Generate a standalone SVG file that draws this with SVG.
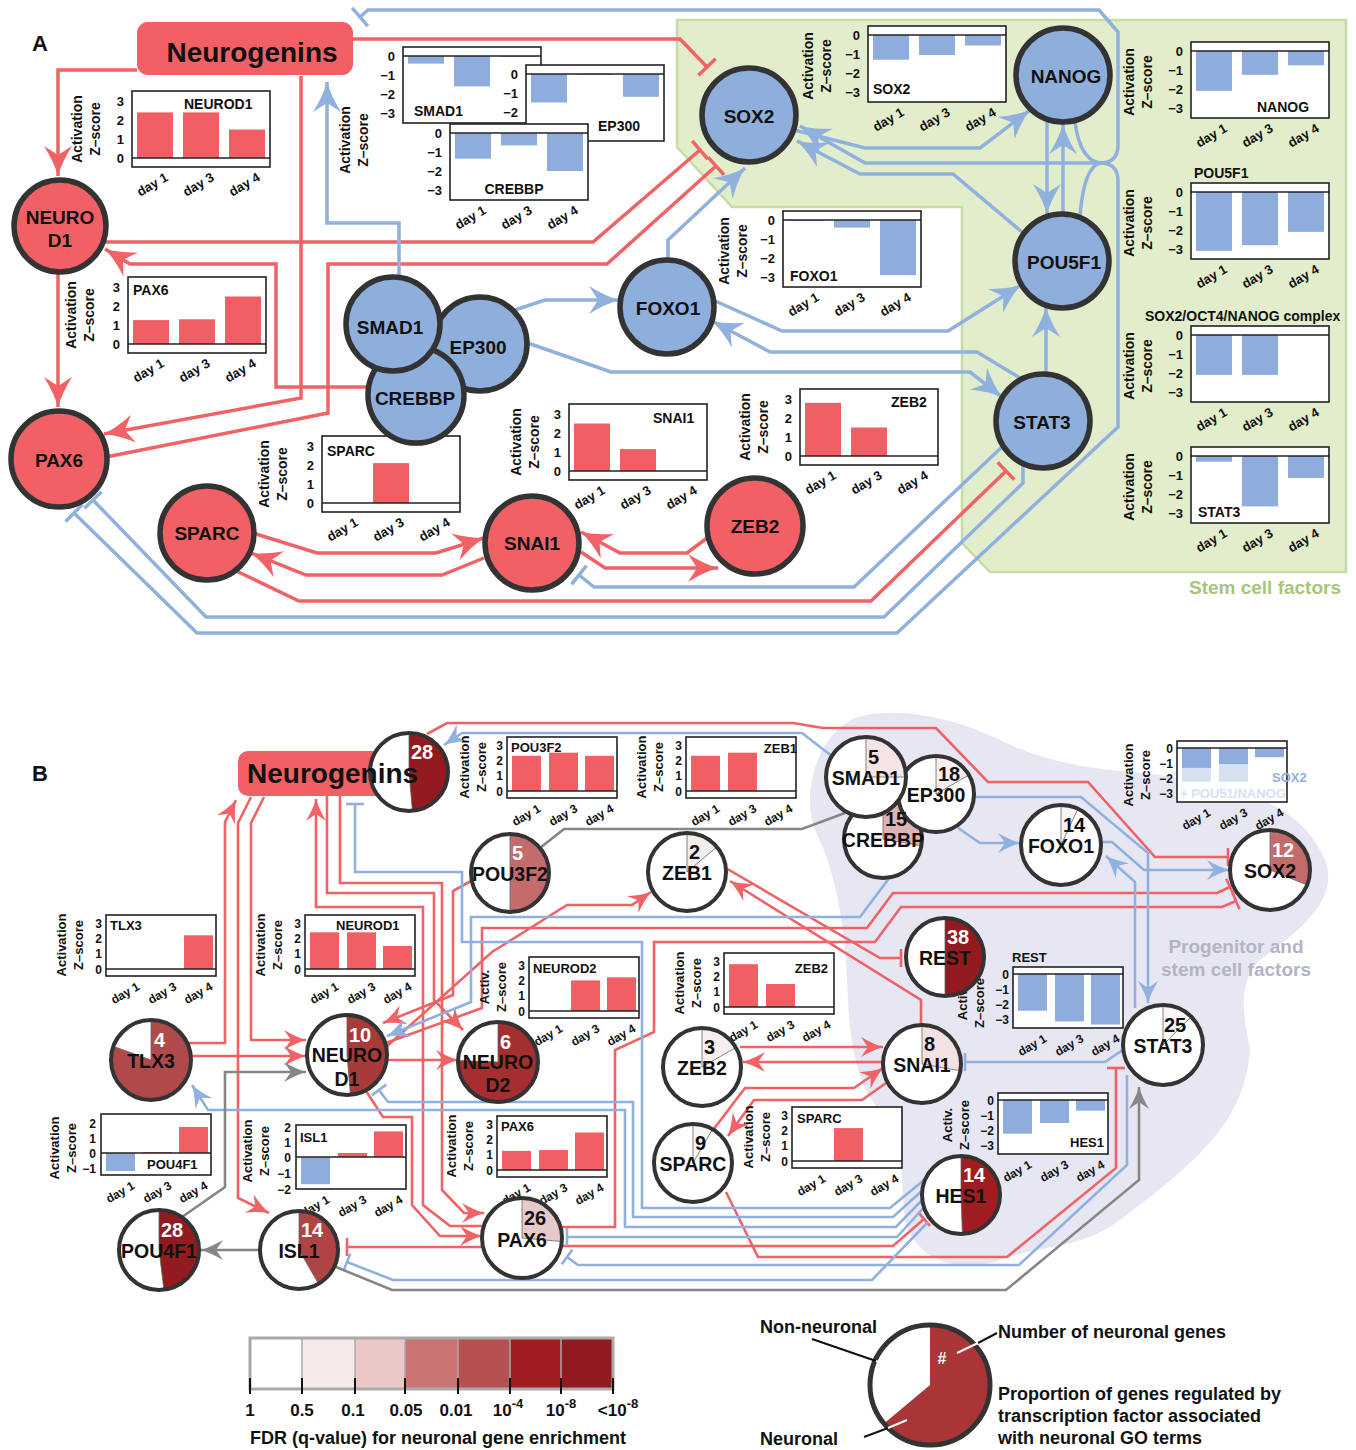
<svg xmlns="http://www.w3.org/2000/svg" width="1356" height="1450" viewBox="0 0 1356 1450">
<defs>
<style>
text{font-family:"Liberation Sans",Arial,Helvetica,sans-serif;font-weight:bold;fill:#111}
.bx{fill:#fff;stroke:#222;stroke-width:1.6}
.zl{stroke:#222;stroke-width:1.6}
.rb{fill:#f05f64}
.bb{fill:#8eacdc}
.lt{fill:#d6e1f2}
.tk{font-size:13px;text-anchor:end}
.ax{font-size:14px;text-anchor:middle}
.dy{font-size:13px;text-anchor:end}
.nm{font-size:14px}
.tkb{font-size:12px;text-anchor:end}
.axb{font-size:13px;text-anchor:middle}
.dyb{font-size:12px;text-anchor:end}
.nmb{font-size:13px}
.lr{fill:none;stroke:#f06266;stroke-width:3.5}
.lb{fill:none;stroke:#90b0de;stroke-width:3.5}
.lr2{fill:none;stroke:#f06266;stroke-width:2.6}
.lb2{fill:none;stroke:#90b0de;stroke-width:2.6}
.lg{fill:none;stroke:#868686;stroke-width:2.6}
.nr{fill:#f06064;stroke:#333;stroke-width:5.5}
.nb{fill:#8eaedc;stroke:#333;stroke-width:5.5}
.cw{fill:#fff}
.co{fill:none;stroke:#333;stroke-width:4}
.wd{stroke:#666;stroke-width:0.8}
.lab{font-size:19px;text-anchor:middle}
.labb{font-size:19.5px;text-anchor:middle}
.num{font-size:20px}
.wn{fill:#fff}
.lg18{font-size:18px}
</style>
<marker id="aR" viewBox="-31 -15 32 30" refX="0" refY="0" markerWidth="32" markerHeight="30" markerUnits="userSpaceOnUse" orient="auto"><path d="M0,0 Q-14,-4 -30,-14 L-21,0 L-30,14 Q-14,4 0,0 Z" fill="#f06266"/></marker>
<marker id="aB" viewBox="-31 -15 32 30" refX="0" refY="0" markerWidth="32" markerHeight="30" markerUnits="userSpaceOnUse" orient="auto"><path d="M0,0 Q-14,-4 -30,-14 L-21,0 L-30,14 Q-14,4 0,0 Z" fill="#90b0de"/></marker>
<marker id="tR" viewBox="-3 -13 6 26" refX="0" refY="0" markerWidth="6" markerHeight="26" markerUnits="userSpaceOnUse" orient="auto"><path d="M0,-12V12" stroke="#f06266" stroke-width="3.5"/></marker>
<marker id="tB" viewBox="-3 -13 6 26" refX="0" refY="0" markerWidth="6" markerHeight="26" markerUnits="userSpaceOnUse" orient="auto"><path d="M0,-12V12" stroke="#90b0de" stroke-width="3.5"/></marker>
<marker id="aR2" viewBox="-23 -11 24 22" refX="0" refY="0" markerWidth="24" markerHeight="22" markerUnits="userSpaceOnUse" orient="auto"><path d="M0,0 Q-10,-3 -22,-10 L-15,0 L-22,10 Q-10,3 0,0 Z" fill="#f06266"/></marker>
<marker id="aB2" viewBox="-23 -11 24 22" refX="0" refY="0" markerWidth="24" markerHeight="22" markerUnits="userSpaceOnUse" orient="auto"><path d="M0,0 Q-10,-3 -22,-10 L-15,0 L-22,10 Q-10,3 0,0 Z" fill="#90b0de"/></marker>
<marker id="aG2" viewBox="-23 -11 24 22" refX="0" refY="0" markerWidth="24" markerHeight="22" markerUnits="userSpaceOnUse" orient="auto"><path d="M0,0 Q-10,-3 -22,-10 L-15,0 L-22,10 Q-10,3 0,0 Z" fill="#868686"/></marker>
<marker id="tR2" viewBox="-2 -10 4 20" refX="0" refY="0" markerWidth="4" markerHeight="20" markerUnits="userSpaceOnUse" orient="auto"><path d="M0,-9V9" stroke="#f06266" stroke-width="2.6"/></marker>
<marker id="tB2" viewBox="-2 -10 4 20" refX="0" refY="0" markerWidth="4" markerHeight="20" markerUnits="userSpaceOnUse" orient="auto"><path d="M0,-9V9" stroke="#90b0de" stroke-width="2.6"/></marker>
<g id="dA"><text class="dy" transform="translate(37,89) rotate(-30)">day 1</text><text class="dy" transform="translate(83,89) rotate(-30)">day 3</text><text class="dy" transform="translate(129,89) rotate(-30)">day 4</text></g>
<g id="tpA"><text class="tk" x="-8" y="15">3</text><text class="tk" x="-8" y="34">2</text><text class="tk" x="-8" y="53">1</text><text class="tk" x="-8" y="72">0</text></g>
<g id="tnA"><text class="tk" x="-8" y="14">0</text><text class="tk" x="-8" y="33">−1</text><text class="tk" x="-8" y="52">−2</text><text class="tk" x="-8" y="71">−3</text></g>
<g id="axA"><text class="ax" transform="translate(0,38) rotate(-90)">Activation</text><text class="ax" transform="translate(18,38) rotate(-90)">Z–score</text></g>
<g id="dB"><text class="dyb" transform="translate(34.5,74) rotate(-30)">day 1</text><text class="dyb" transform="translate(71.5,74) rotate(-30)">day 3</text><text class="dyb" transform="translate(107.5,74) rotate(-30)">day 4</text></g>
<g id="tpB"><text class="tkb" x="-4" y="12.6">3</text><text class="tkb" x="-4" y="27.9">2</text><text class="tkb" x="-4" y="43.2">1</text><text class="tkb" x="-4" y="58.5">0</text></g>
<g id="tnB"><text class="tkb" x="-4" y="11.5">0</text><text class="tkb" x="-4" y="26.8">−1</text><text class="tkb" x="-4" y="42.1">−2</text><text class="tkb" x="-4" y="57.4">−3</text></g>
<g id="axB"><text class="axb" transform="translate(0,30) rotate(-90)">Activation</text><text class="axb" transform="translate(17,30) rotate(-90)">Z–score</text></g>
<g id="axBs"><text class="axb" transform="translate(0,30) rotate(-90)">Activ.</text><text class="axb" transform="translate(17,30) rotate(-90)">Z–score</text></g>
</defs>
<rect width="1356" height="1450" fill="#fff"/>

<!-- ================= PANEL A ================= -->
<g id="region-stem">
<polygon points="677,20 1346,20 1346,572 990,572 962,543 962,207 732,207 677,147" fill="#e2edcb" stroke="#c6dca2" stroke-width="2.5"/>
<text x="1265" y="594" font-size="19" text-anchor="middle" style="fill:#a8c57c">Stem cell factors</text>
</g>
<text x="32" y="51" font-size="22">A</text>

<g id="edges-a">
<path class="lr" marker-end="url(#aR)" d="M137,70 H58 V176"/>
<path class="lr" marker-end="url(#tR)" d="M353,39 H680 L707,67"/>
<path class="lr" marker-end="url(#aR)" d="M301,76 V398 L104,434"/>
<path class="lr" marker-end="url(#tR)" d="M106,242 H593 L700,150"/>
<path class="lr" marker-end="url(#tR)" d="M106,457 L328,413 V264 H607 L716,166"/>
<path class="lr" marker-end="url(#aR)" d="M369,387 H276 V264 H130 L105,249"/>
<path class="lr" marker-end="url(#aR)" d="M58,273 V407"/>
<path class="lr" marker-end="url(#aR)" d="M253,533 L317,553 H436 L484,538"/>
<path class="lr" marker-end="url(#aR)" d="M484,558 L442,575 H306 L251,553"/>
<path class="lr" marker-end="url(#tR)" d="M230,568 L299,601 H871 L1006,471"/>
<path class="lr" marker-end="url(#aR)" d="M707,538 L687,553 H620 L581,532"/>
<path class="lr" marker-end="url(#aR)" d="M581,552 L605,568 H718"/>
<path class="lb" marker-end="url(#tB)" d="M1100,163 Q1118,163 1118,145 V32 L1099,10 H368 L360,17"/>
<path class="lb" d="M1075,122 Q1080,160 1100,163"/>
<path class="lb" d="M1080,216 Q1084,167 1100,163"/>
<path class="lb" marker-end="url(#aB)" d="M1100,163 H865 L800,126"/>
<path class="lb" marker-end="url(#tB)" d="M1100,163 Q1118,163 1118,181 V427 L897,633 H197 L74,513"/>
<path class="lb" marker-end="url(#tB)" d="M1023,466 V483 L884,617 H206 L93,500"/>
<path class="lb" marker-end="url(#aB)" d="M399,278 V223 H327 V82"/>
<path class="lb" marker-end="url(#aB)" d="M515,310 L545,300 H619"/>
<path class="lb" marker-end="url(#aB)" d="M522,341 L611,372 H970 L1002,397"/>
<path class="lb" marker-end="url(#aB)" d="M668,260 V240 L745,168"/>
<path class="lb" marker-end="url(#aB)" d="M713,300 L782,331 H948 L1021,285"/>
<path class="lb" marker-end="url(#aB)" d="M1020,378 L977,352 H770 L712,321"/>
<path class="lb" marker-end="url(#aB)" d="M1046,375 V307"/>
<path class="lb" marker-end="url(#aB)" d="M1047,121 V214"/>
<path class="lb" marker-end="url(#aB)" d="M1063,214 V124"/>
<path class="lb" marker-end="url(#aB)" d="M794,130 L865,148 H980 L1030,110"/>
<path class="lb" marker-end="url(#aB)" d="M1022,232 L953,174 H860 L797,141"/>
<path class="lb" marker-end="url(#tB)" d="M1003,446 L854,587 H594 L579,575"/>
</g>

<g id="charts-a">
<g id="c-a-neurod1" transform="translate(132,91)">
<rect class="bx" width="138" height="76"/>
<rect class="rb" x="5" y="21.4" width="36" height="45.6"/><rect class="rb" x="51" y="21.4" width="36" height="45.6"/><rect class="rb" x="97" y="38.5" width="36" height="28.5"/>
<line class="zl" x1="0" y1="67" x2="138" y2="67"/>
<use href="#tpA"/><use href="#axA" x="-50"/><use href="#dA"/>
<text class="nm" x="52" y="18">NEUROD1</text>
</g>
<g id="c-a-pax6" transform="translate(128,277)">
<rect class="bx" width="138" height="76"/>
<rect class="rb" x="5" y="43.1" width="36" height="23.9"/><rect class="rb" x="51" y="42.3" width="36" height="24.7"/><rect class="rb" x="97" y="19.5" width="36" height="47.5"/>
<line class="zl" x1="0" y1="67" x2="138" y2="67"/>
<use href="#tpA"/><use href="#axA" x="-52"/><use href="#dA"/>
<text class="nm" x="5" y="18">PAX6</text>
</g>
<g id="c-a-smad1" transform="translate(403,47)">
<rect class="bx" width="138" height="76"/>
<rect class="bb" x="5" y="9" width="36" height="7.6"/><rect class="bb" x="51" y="9" width="36" height="30.4"/><rect class="bb" x="97" y="9" width="36" height="1"/>
<line class="zl" x1="0" y1="9" x2="138" y2="9"/>
<use href="#tnA"/>
<text class="nm" x="11" y="69">SMAD1</text>
</g>
<g id="c-a-ep300" transform="translate(526,65)">
<rect class="bx" width="138" height="76"/>
<rect class="bb" x="5" y="9" width="36" height="28.5"/><rect class="bb" x="51" y="9" width="36" height="0.8"/><rect class="bb" x="97" y="9" width="36" height="22.8"/>
<line class="zl" x1="0" y1="9" x2="138" y2="9"/>
<use href="#tnA"/>
<text class="nm" x="72" y="66">EP300</text>
</g>
<g id="c-a-crebbp" transform="translate(450,124)">
<rect class="bx" width="138" height="76"/>
<rect class="bb" x="5" y="9" width="36" height="25.7"/><rect class="bb" x="51" y="9" width="36" height="12.4"/><rect class="bb" x="97" y="9" width="36" height="38"/>
<line class="zl" x1="0" y1="9" x2="138" y2="9"/>
<use href="#tnA"/><use href="#dA"/>
<text class="nm" x="64" y="70" text-anchor="middle">CREBBP</text>
</g>
<use href="#axA" x="350" y="102"/>
<g id="c-a-foxo1" transform="translate(783,211)">
<rect class="bx" width="138" height="76"/>
<rect class="bb" x="5" y="9" width="36" height="1"/><rect class="bb" x="51" y="9" width="36" height="7.6"/><rect class="bb" x="97" y="9" width="36" height="55.1"/>
<line class="zl" x1="0" y1="9" x2="138" y2="9"/>
<use href="#tnA"/><use href="#axA" x="-54" y="2"/><use href="#dA"/>
<text class="nm" x="7" y="70">FOXO1</text>
</g>
<g id="c-a-sox2" transform="translate(868,26)">
<rect class="bx" width="138" height="76"/>
<rect class="bb" x="5" y="9" width="36" height="24.7"/><rect class="bb" x="51" y="9" width="36" height="20"/><rect class="bb" x="97" y="9" width="36" height="10.5"/>
<line class="zl" x1="0" y1="9" x2="138" y2="9"/>
<use href="#tnA"/><use href="#axA" x="-55" y="2"/><use href="#dA"/>
<text class="nm" x="5" y="68">SOX2</text>
</g>
<g id="c-a-nanog" transform="translate(1191,42)">
<rect class="bx" width="138" height="76"/>
<rect class="bb" x="5" y="9" width="36" height="39.9"/><rect class="bb" x="51" y="9" width="36" height="23.8"/><rect class="bb" x="97" y="9" width="36" height="14.3"/>
<line class="zl" x1="0" y1="9" x2="138" y2="9"/>
<use href="#tnA"/><use href="#axA" x="-57" y="2"/><use href="#dA"/>
<text class="nm" x="92" y="70" text-anchor="middle">NANOG</text>
</g>
<g id="c-a-pou5f1" transform="translate(1191,183)">
<rect class="bx" width="138" height="76"/>
<rect class="bb" x="5" y="9" width="36" height="58.9"/><rect class="bb" x="51" y="9" width="36" height="53.2"/><rect class="bb" x="97" y="9" width="36" height="39.9"/>
<line class="zl" x1="0" y1="9" x2="138" y2="9"/>
<use href="#tnA"/><use href="#axA" x="-57" y="2"/><use href="#dA"/>
<text class="nm" x="3" y="-5">POU5F1</text>
</g>
<g id="c-a-complex" transform="translate(1191,326)">
<rect class="bx" width="138" height="76"/>
<rect class="bb" x="5" y="9" width="36" height="39.9"/><rect class="bb" x="51" y="9" width="36" height="39.9"/>
<line class="zl" x1="0" y1="9" x2="138" y2="9"/>
<use href="#tnA"/><use href="#axA" x="-57" y="2"/><use href="#dA"/>
<text class="nm" x="-46" y="-5">SOX2/OCT4/NANOG complex</text>
</g>
<g id="c-a-stat3" transform="translate(1191,447)">
<rect class="bx" width="138" height="76"/>
<rect class="bb" x="5" y="9" width="36" height="5.7"/><rect class="bb" x="51" y="9" width="36" height="50.4"/><rect class="bb" x="97" y="9" width="36" height="21.9"/>
<line class="zl" x1="0" y1="9" x2="138" y2="9"/>
<use href="#tnA"/><use href="#axA" x="-57" y="2"/><use href="#dA"/>
<text class="nm" x="7" y="70">STAT3</text>
</g>
<g id="c-a-sparc" transform="translate(322,436)">
<rect class="bx" width="138" height="76"/>
<rect class="rb" x="51" y="27.1" width="36" height="39.9"/>
<line class="zl" x1="0" y1="67" x2="138" y2="67"/>
<use href="#tpA"/><use href="#axA" x="-53"/><use href="#dA"/>
<text class="nm" x="5" y="20">SPARC</text>
</g>
<g id="c-a-snai1" transform="translate(569,404)">
<rect class="bx" width="138" height="76"/>
<rect class="rb" x="5" y="19.5" width="36" height="47.5"/><rect class="rb" x="51" y="45.1" width="36" height="21.9"/>
<line class="zl" x1="0" y1="67" x2="138" y2="67"/>
<use href="#tpA"/><use href="#axA" x="-48"/><use href="#dA"/>
<text class="nm" x="84" y="19">SNAI1</text>
</g>
<g id="c-a-zeb2" transform="translate(800,389)">
<rect class="bx" width="138" height="76"/>
<rect class="rb" x="5" y="13.8" width="36" height="53.2"/><rect class="rb" x="51" y="38.5" width="36" height="28.5"/>
<line class="zl" x1="0" y1="67" x2="138" y2="67"/>
<use href="#tpA"/><use href="#axA" x="-50"/><use href="#dA"/>
<text class="nm" x="91" y="18">ZEB2</text>
</g>
</g>

<g id="nodes-a">
<g id="a-neurogenins"><rect x="137" y="22" width="216" height="53" rx="11" fill="#f06064"/><text x="252" y="62" font-size="28" text-anchor="middle">Neurogenins</text></g>
<g id="a-neurod1"><circle class="nr" cx="60" cy="226" r="46"/><text class="lab" x="60" y="224">NEURO</text><text class="lab" x="60" y="247">D1</text></g>
<g id="a-pax6"><circle class="nr" cx="59" cy="459" r="48"/><text class="lab" x="59" y="467">PAX6</text></g>
<g id="a-sparc"><circle class="nr" cx="207" cy="533" r="47"/><text class="lab" x="207" y="540">SPARC</text></g>
<g id="a-snai1"><circle class="nr" cx="532" cy="543" r="47"/><text class="lab" x="532" y="550">SNAI1</text></g>
<g id="a-zeb2"><circle class="nr" cx="755" cy="526" r="48"/><text class="lab" x="755" y="533">ZEB2</text></g>
<g id="a-ep300"><circle class="nb" cx="480" cy="344" r="47"/></g>
<g id="a-crebbp"><circle class="nb" cx="416" cy="395" r="48"/></g>
<g id="a-smad1"><circle class="nb" cx="393" cy="324" r="47"/></g>
<text class="lab" x="390" y="334">SMAD1</text>
<text class="lab" x="478" y="354">EP300</text>
<text class="lab" x="415" y="405">CREBBP</text>
<g id="a-foxo1"><circle class="nb" cx="667" cy="307" r="47"/><text class="lab" x="668" y="315">FOXO1</text></g>
<g id="a-sox2"><circle class="nb" cx="749" cy="115" r="47"/><text class="lab" x="749" y="123">SOX2</text></g>
<g id="a-nanog"><circle class="nb" cx="1063" cy="75" r="47"/><text class="lab" x="1066" y="83">NANOG</text></g>
<g id="a-pou5f1"><circle class="nb" cx="1062" cy="261" r="47"/><text class="lab" x="1064" y="269">POU5F1</text></g>
<g id="a-stat3"><circle class="nb" cx="1043" cy="421" r="47"/><text class="lab" x="1042" y="429">STAT3</text></g>
</g>

<!-- ================= PANEL B ================= -->
<g id="region-progenitor">
<path d="M858,717 C900,705 960,720 1000,740 C1060,770 1120,770 1160,775 C1230,785 1300,800 1325,860 C1340,900 1300,930 1260,960 C1235,985 1245,1020 1250,1050 C1245,1120 1200,1160 1120,1220 C1080,1250 1040,1245 1000,1260 C960,1275 915,1260 905,1220 C900,1170 905,1140 880,1110 C860,1090 850,1050 848,1000 C846,940 840,880 815,830 C800,790 820,730 858,717 Z" fill="#e7e6f3"/>
<text x="1236" y="953" font-size="19" text-anchor="middle" style="fill:#b3b3c3">Progenitor and</text>
<text x="1236" y="976" font-size="19" text-anchor="middle" style="fill:#b3b3c3">stem cell factors</text>
</g>
<text x="32" y="781" font-size="22">B</text>

<g id="edges-b">
<path class="lr2" marker-end="url(#aR2)" d="M189,1043 H225 V822 L236,800"/>
<path class="lr2" marker-end="url(#aR2)" d="M251,797 L238,823 V1198 L269,1213"/>
<path class="lr2" marker-end="url(#aR2)" d="M264,797 L251,823 V1040 H306"/>
<path class="lr2" marker-end="url(#aR2)" d="M191,1056 H306"/>
<path class="lr2" marker-end="url(#aR2)" d="M483,1226 H450 L423,1205 V907 H316 V799"/>
<path class="lr2" marker-end="url(#aR2)" d="M340,796 V883 H442 V1190 L464,1213 H484"/>
<path class="lr2" marker-end="url(#aR2)" d="M327,796 V893 H434 V1000 L463,1030"/>
<path class="lr2" marker-end="url(#aR2)" d="M366,1091 L383,1117 H412 V1205 L440,1236 H482"/>
<path class="lr2" marker-end="url(#aR2)" d="M387,1060 H458"/>
<path class="lr2" marker-end="url(#aR2)" d="M471,881 L453,891 V995 L383,1023"/>
<path class="lr2" marker-end="url(#aR2)" d="M386,1047 L492,952 L567,905 H632 L651,892"/>
<path class="lr2" marker-end="url(#tR2)" d="M386,1043 L482,1008 V928 H867 L893,893 H1217 L1230,887"/>
<path class="lr2" marker-end="url(#tR2)" d="M562,1227 H615 V1050 L654,1032 V942 H875 L901,907 H1222 L1236,901"/>
<path class="lr2" marker-end="url(#tR2)" d="M427,734 L447,723 H793 L823,728 H936 L988,782 H1088 L1155,857 H1228"/>
<path class="lr2" marker-end="url(#tR2)" d="M724,867 L880,958 H901"/>
<path class="lr2" marker-end="url(#aR2)" d="M921,1026 V1000 L730,881"/>
<path class="lr2" marker-end="url(#aR2)" d="M740,1047 H883"/>
<path class="lr2" marker-end="url(#aR2)" d="M883,1062 H743"/>
<path class="lr2" marker-end="url(#aR2)" d="M713,1130 L745,1088 H854 L883,1068"/>
<path class="lr2" marker-end="url(#aR2)" d="M886,1083 L862,1100 H754 L728,1136"/>
<path class="lr2" marker-end="url(#tR2)" d="M726,1192 L758,1257 H1007 L1116,1168 V1068"/>
<path class="lr2" marker-end="url(#tR2)" d="M562,1246 H893 L924,1219"/>
<path class="lr2" marker-end="url(#tR2)" d="M483,1247 H347"/>
<path class="lb2" marker-end="url(#tB2)" d="M924,1180 L890,1208 H642 V942 H462 V872 H355 V804"/>
<path class="lb2" marker-end="url(#aB2)" d="M926,1196 L896,1227 H625 V1110 H208 L192,1085"/>
<path class="lb2" marker-end="url(#tB2)" d="M925,1188 L893,1217 H633 V1102 H388 L379,1090"/>
<path class="lb2" marker-end="url(#tB2)" d="M927,1204 L897,1237 H567"/>
<path class="lb2" marker-end="url(#tB2)" d="M1127,1075 V1165 L1019,1265 H578 L567,1257"/>
<path class="lb2" marker-end="url(#tB2)" d="M928,1222 L872,1280 H393 L347,1262"/>
<path class="lb2" marker-end="url(#aB2)" d="M833,757 L802,733 H462 L444,745"/>
<path class="lb2" marker-end="url(#aB2)" d="M890,877 L860,917 H471 V1002 L387,1036"/>
<path class="lb2" marker-end="url(#aB2)" d="M971,797 H1081 L1148,853 V1003"/>
<path class="lb2" marker-end="url(#aB2)" d="M958,828 L980,843 H1020"/>
<path class="lb2" marker-end="url(#aB2)" d="M1101,842 H1112 L1144,870 H1229"/>
<path class="lb2" marker-end="url(#aB2)" d="M1135,1008 V882 L1106,856"/>
<path class="lb2" marker-end="url(#tB2)" d="M1127,1047 L1105,1062 H965"/>
<path class="lg" marker-end="url(#aG2)" d="M182,1217 L225,1187 V1072 H306"/>
<path class="lg" marker-end="url(#aG2)" d="M261,1250 H201"/>
<path class="lg" marker-end="url(#aG2)" d="M336,1267 L392,1290 H1006 L1139,1180 V1087"/>
<path class="lg" d="M540,848 L564,829 H802 L845,813"/>
</g>

<g id="charts-b">
<g id="c-b-pou3f2" transform="translate(507,737)">
<rect class="bx" width="110" height="61"/>
<rect class="rb" x="5" y="18.8" width="29" height="35.2"/><rect class="rb" x="42" y="15.7" width="29" height="38.3"/><rect class="rb" x="78" y="18.8" width="29" height="35.2"/>
<line class="zl" x1="0" y1="54" x2="110" y2="54"/>
<use href="#tpB"/><use href="#axB" x="-38"/><use href="#dB"/>
<text class="nmb" x="4" y="15">POU3F2</text>
</g>
<g id="c-b-zeb1" transform="translate(686,737)">
<rect class="bx" width="110" height="61"/>
<rect class="rb" x="5" y="18.8" width="29" height="35.2"/><rect class="rb" x="42" y="15.7" width="29" height="38.3"/>
<line class="zl" x1="0" y1="54" x2="110" y2="54"/>
<use href="#tpB"/><use href="#axB" x="-40"/><use href="#dB"/>
<text class="nmb" x="111" y="16" text-anchor="end">ZEB1</text>
</g>
<g id="c-b-tlx3" transform="translate(106,915)">
<rect class="bx" width="110" height="61"/>
<rect class="rb" x="78" y="20.3" width="29" height="33.7"/>
<line class="zl" x1="0" y1="54" x2="110" y2="54"/>
<use href="#tpB"/><use href="#axB" x="-40"/><use href="#dB"/>
<text class="nmb" x="4" y="15">TLX3</text>
</g>
<g id="c-b-neurod1" transform="translate(305,915)">
<rect class="bx" width="110" height="61"/>
<rect class="rb" x="5" y="17.3" width="29" height="36.7"/><rect class="rb" x="42" y="17.3" width="29" height="36.7"/><rect class="rb" x="78" y="31" width="29" height="23"/>
<line class="zl" x1="0" y1="54" x2="110" y2="54"/>
<use href="#tpB"/><use href="#axB" x="-40"/><use href="#dB"/>
<text class="nmb" x="31" y="15">NEUROD1</text>
</g>
<g id="c-b-neurod2" transform="translate(529,957)">
<rect class="bx" width="110" height="61"/>
<rect class="rb" x="42" y="23.4" width="29" height="30.6"/><rect class="rb" x="78" y="20.3" width="29" height="33.7"/>
<line class="zl" x1="0" y1="54" x2="110" y2="54"/>
<use href="#tpB"/><use href="#axBs" x="-40"/><use href="#dB"/>
<text class="nmb" x="4" y="16">NEUROD2</text>
</g>
<g id="c-b-zeb2" transform="translate(724,953)">
<rect class="bx" width="110" height="61"/>
<rect class="rb" x="5" y="11.2" width="29" height="42.8"/><rect class="rb" x="42" y="31" width="29" height="23"/>
<line class="zl" x1="0" y1="54" x2="110" y2="54"/>
<use href="#tpB"/><use href="#axB" x="-40"/><use href="#dB"/>
<text class="nmb" x="104" y="20" text-anchor="end">ZEB2</text>
</g>
<g id="c-b-rest" transform="translate(1013,967)">
<rect class="bx" width="110" height="61"/>
<rect class="bb" x="5" y="7" width="29" height="36.7"/><rect class="bb" x="42" y="7" width="29" height="47.4"/><rect class="bb" x="78" y="7" width="29" height="50.5"/>
<line class="zl" x1="0" y1="7" x2="110" y2="7"/>
<use href="#tnB"/><use href="#axBs" x="-46" y="6"/><use href="#dB"/>
<text class="nmb" x="-1" y="-5">REST</text>
</g>
<g id="c-b-sox2" transform="translate(1177,741)">
<rect class="bx" width="110" height="61"/>
<rect class="lt" x="5" y="7" width="29" height="33.7"/><rect class="lt" x="42" y="7" width="29" height="33.7"/>
<rect class="bb" x="5" y="7" width="29" height="19.9"/><rect class="bb" x="42" y="7" width="29" height="16.1"/><rect class="bb" x="78" y="7" width="29" height="9.2"/>
<line class="zl" x1="0" y1="7" x2="110" y2="7"/>
<use href="#tnB"/><use href="#axB" x="-44" y="4"/><use href="#dB"/>
<text class="nmb" x="95" y="41" style="fill:#90b0de">SOX2</text>
<text class="nmb" x="3" y="57" style="fill:#d6e1f2">+ POU51/NANOG</text>
</g>
<g id="c-b-pou4f1" transform="translate(101,1114)">
<rect class="bx" width="110" height="61"/>
<rect class="bb" x="5" y="39" width="29" height="18"/><rect class="rb" x="42" y="38" width="29" height="1"/><rect class="rb" x="78" y="13" width="29" height="26"/>
<line class="zl" x1="0" y1="39" x2="110" y2="39"/>
<text class="tkb" x="-5" y="13.5">2</text><text class="tkb" x="-5" y="28.5">1</text><text class="tkb" x="-5" y="43.5">0</text><text class="tkb" x="-5" y="58.5">−1</text>
<use href="#axB" x="-42" y="4"/><use href="#dB"/>
<text class="nmb" x="46" y="55">POU4F1</text>
</g>
<g id="c-b-isl1" transform="translate(296,1125)">
<rect class="bx" width="110" height="64"/>
<rect class="bb" x="5" y="32" width="29" height="27.2"/><rect class="rb" x="42" y="28" width="29" height="4"/><rect class="rb" x="78" y="6.4" width="29" height="25.6"/>
<line class="zl" x1="0" y1="32" x2="110" y2="32"/>
<text class="tkb" x="-5" y="6.5">2</text><text class="tkb" x="-5" y="21.5">1</text><text class="tkb" x="-5" y="36.5">0</text><text class="tkb" x="-5" y="52.5">−1</text><text class="tkb" x="-5" y="68.5">−2</text>
<use href="#axB" x="-44" y="-4"/><use href="#dB" y="3"/>
<text class="nmb" x="4" y="17">ISL1</text>
</g>
<g id="c-b-pax6" transform="translate(497,1116)">
<rect class="bx" width="110" height="61"/>
<rect class="rb" x="5" y="34.9" width="29" height="19.1"/><rect class="rb" x="42" y="34.1" width="29" height="19.9"/><rect class="rb" x="78" y="16.5" width="29" height="37.5"/>
<line class="zl" x1="0" y1="54" x2="110" y2="54"/>
<use href="#tpB"/><use href="#axB" x="-41"/><use href="#dB"/>
<text class="nmb" x="4" y="15">PAX6</text>
</g>
<g id="c-b-sparc" transform="translate(792,1107)">
<rect class="bx" width="110" height="61"/>
<rect class="rb" x="42" y="21.1" width="29" height="32.9"/>
<line class="zl" x1="0" y1="54" x2="110" y2="54"/>
<use href="#tpB"/><use href="#axB" x="-39"/><use href="#dB"/>
<text class="nmb" x="5" y="16">SPARC</text>
</g>
<g id="c-b-hes1" transform="translate(998,1093)">
<rect class="bx" width="110" height="61"/>
<rect class="bb" x="5" y="7" width="29" height="33.7"/><rect class="bb" x="42" y="7" width="29" height="23"/><rect class="bb" x="78" y="7" width="29" height="10.7"/>
<line class="zl" x1="0" y1="7" x2="110" y2="7"/>
<use href="#tnB"/><use href="#axBs" x="-46" y="2"/><use href="#dB"/>
<text class="nmb" x="106" y="54" text-anchor="end">HES1</text>
</g>
</g>

<g id="nodes-b">
<g id="b-neurogenins">
<rect x="238" y="751" width="150" height="45" rx="10" fill="#f06064"/>
<circle class="cw" cx="409" cy="772" r="39"/><path class="wd" fill="#931b1f" d="M409,772 L409,733 A39,39 0 0,1 412.4,810.9 Z"/><circle class="co" cx="409" cy="772" r="39"/>
<text class="num wn" x="411" y="759">28</text>
<text x="247" y="783" font-size="28">Neurogenins</text>
</g>
<g id="b-pou3f2"><circle class="cw" cx="510" cy="873" r="39"/><path class="wd" fill="#c46c6c" d="M510,873 L510,834 A39,39 0 0,1 510,912 Z"/><circle class="co" cx="510" cy="873" r="39"/><text class="num wn" x="512" y="860">5</text><text class="labb" x="510" y="881">POU3F2</text></g>
<g id="b-zeb1"><circle class="cw" cx="687" cy="872" r="39"/><path class="wd" fill="#f6ecec" d="M687,872 L687,833 A39,39 0 0,1 716.9,846.9 Z"/><circle class="co" cx="687" cy="872" r="39"/><text class="num" x="689" y="859">2</text><text class="labb" x="687" y="880">ZEB1</text></g>
<g id="b-crebbp"><circle class="cw" cx="883" cy="839" r="39"/><path class="wd" fill="#deb3b3" d="M883,839 L883,800 A39,39 0 0,1 921.4,845.8 Z"/><circle class="co" cx="883" cy="839" r="39"/></g>
<g id="b-ep300"><circle class="cw" cx="936" cy="794" r="38"/><path class="wd" fill="#f8eeee" d="M936,794 L936,756 A38,38 0 0,1 968.9,775 Z"/><circle class="co" cx="936" cy="794" r="38"/></g>
<g id="b-smad1"><circle class="cw" cx="866" cy="777" r="40"/><path class="wd" fill="#f3e5e5" d="M866,777 L866,737 A40,40 0 0,1 906,777 Z"/><circle class="co" cx="866" cy="777" r="40"/></g>
<text class="num" x="885" y="826">15</text><text class="labb" x="883" y="847">CREBBP</text>
<text class="num" x="938" y="781">18</text><text class="labb" x="936" y="802">EP300</text>
<text class="num" x="868" y="764">5</text><text class="labb" x="866" y="785">SMAD1</text>
<g id="b-foxo1"><circle class="cw" cx="1061" cy="845" r="40"/><path class="wd" fill="#faf3f3" d="M1061,845 L1061,805 A40,40 0 0,1 1077.9,808.8 Z"/><circle class="co" cx="1061" cy="845" r="40"/><text class="num" x="1063" y="832">14</text><text class="labb" x="1061" y="853">FOXO1</text></g>
<g id="b-sox2"><circle class="cw" cx="1270" cy="870" r="40"/><path class="wd" fill="#c46c6c" d="M1270,870 L1270,830 A40,40 0 0,1 1307.1,885 Z"/><circle class="co" cx="1270" cy="870" r="40"/><text class="num wn" x="1272" y="857">12</text><text class="labb" x="1270" y="878">SOX2</text></g>
<g id="b-rest"><circle class="cw" cx="945" cy="957" r="39"/><path class="wd" fill="#931b1f" d="M945,957 L945,918 A39,39 0 0,1 945,996 Z"/><circle class="co" cx="945" cy="957" r="39"/><text class="num wn" x="947" y="944">38</text><text class="labb" x="945" y="965">REST</text></g>
<g id="b-stat3"><circle class="cw" cx="1163" cy="1045" r="40"/><path class="wd" fill="#fbf6f6" d="M1163,1045 L1163,1005 A40,40 0 0,1 1191.3,1016.7 Z"/><circle class="co" cx="1163" cy="1045" r="40"/><text class="num" x="1164" y="1032">25</text><text class="labb" x="1163" y="1053">STAT3</text></g>
<g id="b-snai1"><circle class="cw" cx="922" cy="1064" r="39"/><path class="wd" fill="#f3e2e2" d="M922,1064 L922,1025 A39,39 0 0,1 960.4,1070.8 Z"/><circle class="co" cx="922" cy="1064" r="39"/><text class="num" x="924" y="1051">8</text><text class="labb" x="922" y="1072">SNAI1</text></g>
<g id="b-zeb2"><circle class="cw" cx="702" cy="1067" r="39"/><path class="wd" fill="#f7eeee" d="M702,1067 L702,1028 A39,39 0 0,1 735.8,1047.5 Z"/><circle class="co" cx="702" cy="1067" r="39"/><text class="num" x="704" y="1054">3</text><text class="labb" x="702" y="1075">ZEB2</text></g>
<g id="b-sparc"><circle class="cw" cx="693" cy="1163" r="39"/><path class="wd" fill="#faf5f5" d="M693,1163 L693,1124 A39,39 0 0,1 712.5,1129.2 Z"/><circle class="co" cx="693" cy="1163" r="39"/><text class="num" x="695" y="1150">9</text><text class="labb" x="693" y="1171">SPARC</text></g>
<g id="b-hes1"><circle class="cw" cx="961" cy="1195" r="39"/><path class="wd" fill="#a01c20" d="M961,1195 L961,1156 A39,39 0 0,1 962.4,1234 Z"/><circle class="co" cx="961" cy="1195" r="39"/><text class="num wn" x="963" y="1182">14</text><text class="labb" x="961" y="1203">HES1</text></g>
<g id="b-tlx3"><circle class="cw" cx="151" cy="1060" r="40"/><path class="wd" fill="#b04a4a" d="M151,1060 L151,1020 A40,40 0 1,1 113.4,1046.3 Z"/><circle class="co" cx="151" cy="1060" r="40"/><text class="num wn" x="154" y="1047">4</text><text class="labb" x="151" y="1068">TLX3</text></g>
<g id="b-neurod1"><circle class="cw" cx="347" cy="1055" r="40"/><path class="wd" fill="#a83a3a" d="M347,1055 L347,1015 A40,40 0 0,1 350.5,1094.8 Z"/><circle class="co" cx="347" cy="1055" r="40"/><text class="num wn" x="349" y="1042">10</text><text class="labb" x="347" y="1062">NEURO</text><text class="labb" x="347" y="1086">D1</text></g>
<g id="b-neurod2"><circle class="cw" cx="498" cy="1062" r="40"/><path class="wd" fill="#a52e2e" d="M498,1062 L498,1022 A40,40 0 1,1 458,1060.6 Z"/><circle class="co" cx="498" cy="1062" r="40"/><text class="num wn" x="500" y="1049">6</text><text class="labb" x="498" y="1069">NEURO</text><text class="labb" x="498" y="1092">D2</text></g>
<g id="b-isl1"><circle class="cw" cx="299" cy="1250" r="39"/><path class="wd" fill="#b04444" d="M299,1250 L299,1211 A39,39 0 0,1 318.5,1283.8 Z"/><circle class="co" cx="299" cy="1250" r="39"/><text class="num wn" x="301" y="1237">14</text><text class="labb" x="299" y="1258">ISL1</text></g>
<g id="b-pou4f1"><circle class="cw" cx="159" cy="1250" r="40"/><path class="wd" fill="#931b1f" d="M159,1250 L159,1210 A40,40 0 0,1 163.9,1289.7 Z"/><circle class="co" cx="159" cy="1250" r="40"/><text class="num wn" x="161" y="1237">28</text><text class="labb" x="159" y="1258">POU4F1</text></g>
<g id="b-pax6"><circle class="cw" cx="522" cy="1238" r="40"/><path class="wd" fill="#e8c9c9" d="M522,1238 L522,1198 A40,40 0 0,1 561.8,1241.5 Z"/><circle class="co" cx="522" cy="1238" r="40"/><text class="num" x="524" y="1225">26</text><text class="labb" x="522" y="1247">PAX6</text></g>
</g>

<!-- ================= LEGEND ================= -->
<g id="legend-fdr">
<rect x="250" y="1338" width="52" height="51" fill="#ffffff"/>
<rect x="302" y="1338" width="53" height="51" fill="#f6e9e9"/>
<rect x="355" y="1338" width="50" height="51" fill="#eac8c8"/>
<rect x="405" y="1338" width="53" height="51" fill="#c77473"/>
<rect x="458" y="1338" width="52" height="51" fill="#b55150"/>
<rect x="510" y="1338" width="51" height="51" fill="#a01c20"/>
<rect x="561" y="1338" width="52" height="51" fill="#931a1e"/>
<g stroke="#aaa" stroke-width="1.5"><line x1="302" y1="1338" x2="302" y2="1389"/><line x1="355" y1="1338" x2="355" y2="1389"/><line x1="405" y1="1338" x2="405" y2="1389"/><line x1="458" y1="1338" x2="458" y2="1389"/><line x1="510" y1="1338" x2="510" y2="1389"/><line x1="561" y1="1338" x2="561" y2="1389"/></g>
<rect x="250" y="1338" width="363" height="51" fill="none" stroke="#aaa" stroke-width="3"/>
<g stroke="#111" stroke-width="2"><line x1="250" y1="1378" x2="250" y2="1394"/><line x1="302" y1="1378" x2="302" y2="1394"/><line x1="355" y1="1378" x2="355" y2="1394"/><line x1="405" y1="1378" x2="405" y2="1394"/><line x1="458" y1="1378" x2="458" y2="1394"/><line x1="510" y1="1378" x2="510" y2="1394"/><line x1="561" y1="1378" x2="561" y2="1394"/><line x1="613" y1="1378" x2="613" y2="1394"/></g>
<g font-size="17" text-anchor="middle">
<text x="250" y="1416">1</text><text x="302" y="1416">0.5</text><text x="353" y="1416">0.1</text><text x="406" y="1416">0.05</text><text x="456" y="1416">0.01</text>
<text x="508" y="1416">10<tspan font-size="13" dy="-8">-4</tspan></text>
<text x="561" y="1416">10<tspan font-size="13" dy="-8">-8</tspan></text>
<text x="618" y="1416">&lt;10<tspan font-size="13" dy="-8">-8</tspan></text>
</g>
<text class="lg18" x="250" y="1444">FDR (q-value) for neuronal gene enrichment</text>
</g>
<g id="legend-pie">
<circle cx="930" cy="1385" r="60" fill="#fff"/>
<path d="M930,1385 L930,1325 A60,60 0 1,1 884,1423.6 Z" fill="#a93536"/>
<circle cx="930" cy="1385" r="60" fill="none" stroke="#333" stroke-width="5"/>
<line x1="812" y1="1339" x2="876" y2="1361" stroke="#111" stroke-width="2"/>
<line x1="876" y1="1361" x2="893" y2="1368" stroke="#fff" stroke-width="2"/>
<line x1="864" y1="1437" x2="888" y2="1428" stroke="#111" stroke-width="2"/>
<line x1="888" y1="1428" x2="907" y2="1420" stroke="#fff" stroke-width="2"/>
<line x1="997" y1="1333" x2="978" y2="1343" stroke="#111" stroke-width="2"/>
<line x1="978" y1="1343" x2="957" y2="1353" stroke="#fff" stroke-width="2"/>
<text x="942" y="1364" font-size="16" text-anchor="middle" class="wn">#</text>
<text class="lg18" x="760" y="1333">Non-neuronal</text>
<text class="lg18" x="760" y="1445">Neuronal</text>
<text class="lg18" x="998" y="1338">Number of neuronal genes</text>
<text class="lg18" x="998" y="1400">Proportion of genes regulated by</text>
<text class="lg18" x="998" y="1422">transcription factor associated</text>
<text class="lg18" x="998" y="1444">with neuronal GO terms</text>
</g>
</svg>
